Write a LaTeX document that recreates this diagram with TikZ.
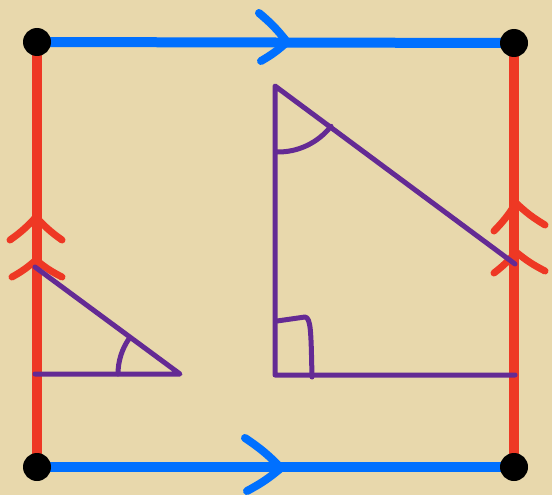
\documentclass[tikz,border=0pt]{standalone}
\usepackage{tikz}
\usetikzlibrary{positioning,calc}
\definecolor{parchment}{RGB}{232,216,172}
\definecolor{sideblue}{RGB}{0,112,255}
\definecolor{sidered}{RGB}{238,56,36}
\definecolor{tripurple}{RGB}{100,42,148}
\begin{document}
\begin{tikzpicture}[
        x=1pt, y=-1pt,
        edgeblue/.style={line width=10pt, draw=sideblue},
        edgered/.style={line width=10pt, draw=sidered},
        chevblue/.style={line width=8pt, draw=sideblue, line cap=round, line join=round},
        chevred/.style={line width=7pt, draw=sidered, line cap=round, line join=round},
        tri/.style={line width=5pt, draw=tripurple, line cap=round, line join=round},
        corner/.style={circle, fill=black, minimum size=28pt, inner sep=0pt}
        ]

        % Background
        \fill[parchment] (0,0) rectangle (552,495);
        \useasboundingbox (0,0) rectangle (552,495);

        % Corners of the square
        \coordinate (tl) at (37,42);
        \coordinate (tr) at (514,43);
        \coordinate (bl) at (37,467);
        \coordinate (br) at (514,467);

        % Red sides (identified upward)
        \draw[edgered] (bl) -- (tl);
        \draw[edgered] (br) -- (tr);

        % Blue sides (identified rightward)
        \draw[edgeblue] (tl) -- (tr);
        \draw[edgeblue] (bl) -- (br);

        % Single blue arrows
        \coordinate (toptip) at (287,42);
        \coordinate (bottip) at (281,468);
        \draw[chevblue] (259,13) to[bend left=6] (toptip) to[bend left=6] (261,61);
        \draw[chevblue] (245,438) to[bend left=6] (bottip) to[bend left=6] (247,491);

        % Double red arrows
        \coordinate (lefttipa) at (36,217);
        \coordinate (lefttipb) at (36,260);
        \coordinate (righttipa) at (516,203);
        \coordinate (righttipb) at (516,252);
        \draw[chevred] (10,240) to[bend right=6] (lefttipa) to[bend right=6] (62,240);
        \draw[chevred] (12,277) to[bend right=6] (lefttipb) to[bend right=6] (62,277);
        \draw[chevred] (494,231) to[bend right=6] (righttipa) to[bend right=6] (545,225);
        \draw[chevred] (494,273) to[bend right=6] (righttipb) to[bend right=6] (545,271);

        % Small triangle on the left
        \coordinate (lt) at (35,267);
        \coordinate (lr) at (180,374);
        \coordinate (lb) at (35,374);
        \draw[tri] (lt) -- (lr) -- (lb);
        \draw[tri] (118,374) arc[start angle=180, end angle=215, radius=62];

        % Large triangle
        \coordinate (rt) at (275,86);
        \coordinate (rb) at (275,375);
        \coordinate (rr) at (515,375);
        \coordinate (rh) at (515,264);
        \draw[tri] (rh) -- (rt) -- (rb) -- (rr);
        \draw[tri] (277,152) arc[start angle=91, end angle=38, radius=67];
        \draw[tri] (277,321) -- (305,317) .. controls (311,318) and (311,332) .. (312,377);

        % Corner dots
        \node[corner] (dottl) at (tl) {};
        \node[corner] (dottr) at (tr) {};
        \node[corner] (dotbl) at (bl) {};
        \node[corner] (dotbr) at (br) {};
\end{tikzpicture}
\end{document}
